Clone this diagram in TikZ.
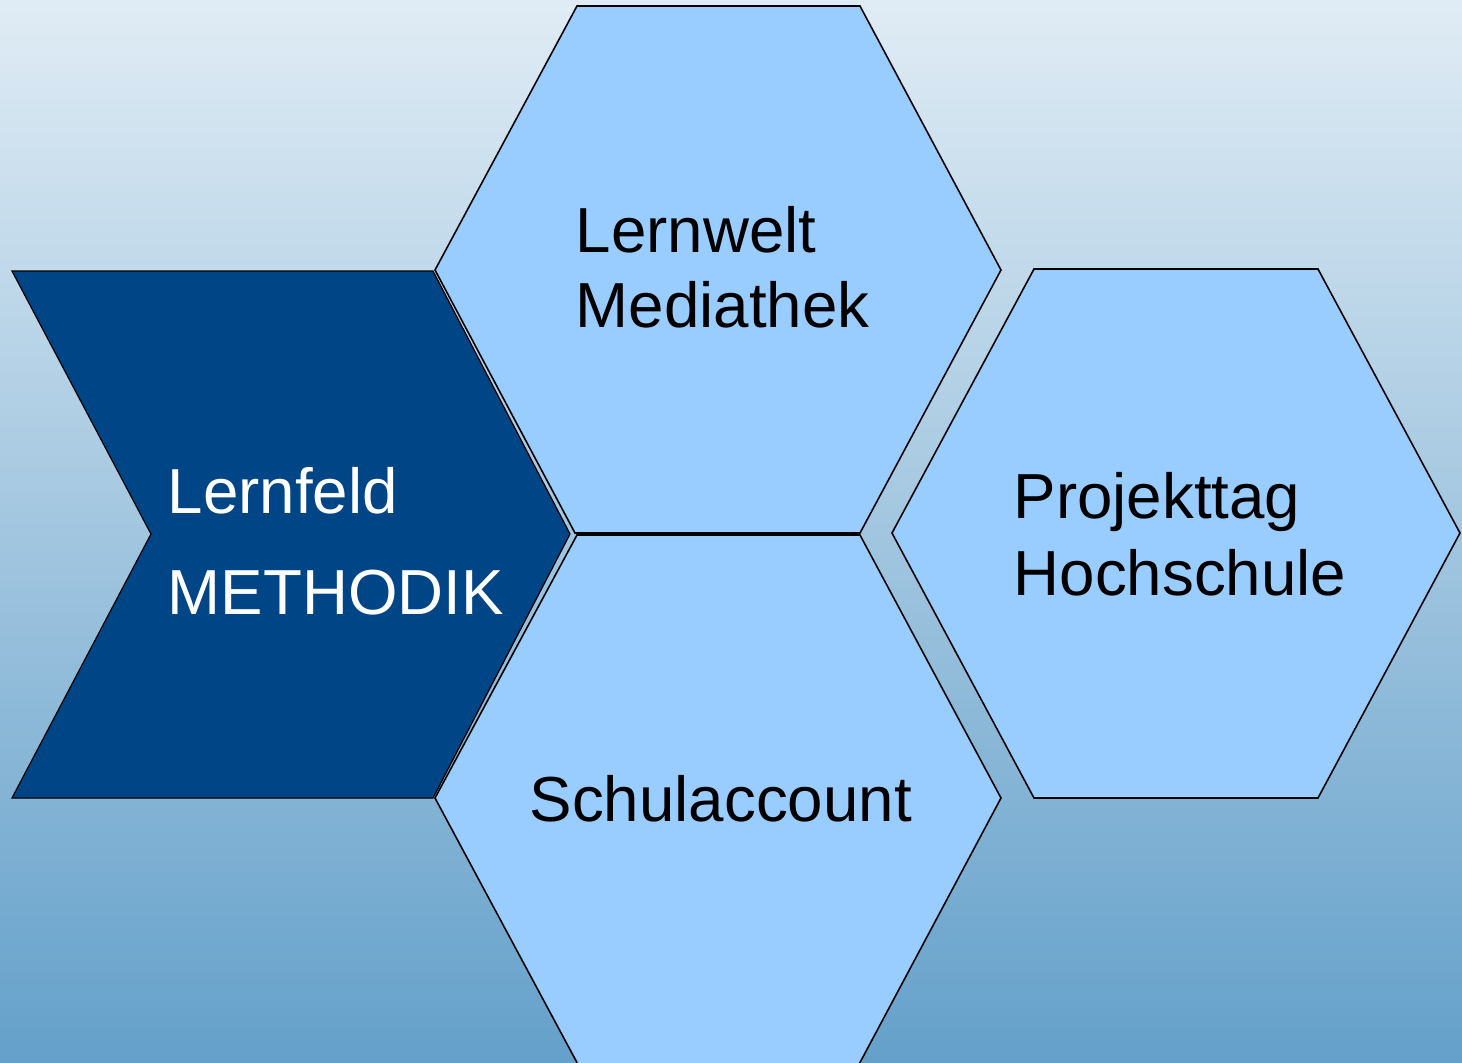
\documentclass[tikz,border=0pt]{standalone}
\usepackage{fontspec}
\setmainfont{Liberation Sans}
\definecolor{bgtop}{HTML}{E0ECF5}
\definecolor{bgbot}{HTML}{64A0CA}
\definecolor{hexfill}{HTML}{99CCFF}
\definecolor{chevfill}{HTML}{004586}
\begin{document}
\begin{tikzpicture}[x=0.01cm,y=-0.01cm,
  hexshape/.style={draw=black,line width=0.45pt,fill=hexfill,line join=miter},
  chevshape/.style={draw=black,line width=0.35pt,fill=chevfill,line join=miter},
  lbl/.style={anchor=base west,inner sep=0pt,font=\fontsize{18.1}{20}\selectfont,text=black},
  wlbl/.style={lbl,text=white}]
\useasboundingbox (0,0) rectangle (1462,1062);
\clip (0,0) rectangle (1462,1062);
\shade[top color=bgtop,bottom color=bgbot] (0,0) rectangle (1462,1062);
% chevron
\draw[chevshape] (12,271) -- (433,271) -- (570,534) -- (433,798) -- (12,798) -- (151,534) -- cycle;
% top hexagon
\draw[hexshape] (435,270) -- (577,6) -- (860,6) -- (1001,270) -- (860,533) -- (575,533) -- cycle;
% bottom hexagon (runs off the lower edge)
\draw[hexshape] (435,798) -- (577,535) -- (860,535) -- (1001,798) -- (856,1070) -- (581,1070) -- cycle;
% right hexagon
\draw[hexshape] (892,533) -- (1034,269) -- (1318,269) -- (1460,533) -- (1318,798) -- (1034,798) -- cycle;
% labels
\node[wlbl] (lf1) at (167,513) {Lernfeld};
\node[wlbl] (lf2) at (167,614) {METHODIK};
\node[lbl] (lw1) at (575,252) {Lernwelt};
\node[lbl] (lw2) at (575,327) {Mediathek};
\node[lbl] (pt1) at (1013,518) {Projekttag};
\node[lbl] (pt2) at (1013,595) {Hochschule};
\node[lbl] (sa) at (529,821) {Schulaccount};
\end{tikzpicture}
\end{document}
